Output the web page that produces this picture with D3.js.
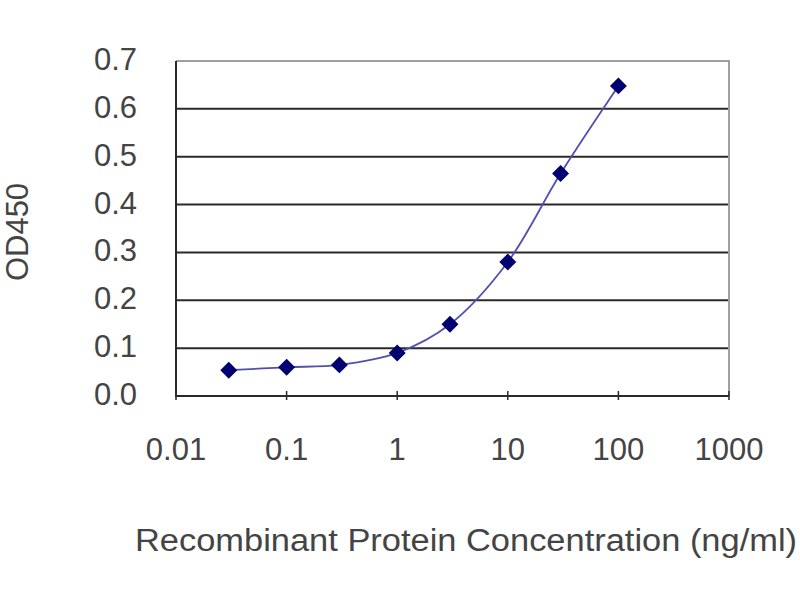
<!DOCTYPE html>
<html>
<head>
<meta charset="utf-8">
<script src="https://cdn.jsdelivr.net/npm/d3@7"></script>
<style>
  body { margin: 0; background: #fff; }
  text { font-family: "Liberation Sans", Arial, sans-serif; fill: #444; }
</style>
</head>
<body>
<div id="plot"></div>
<script>
// concentrations (ng/ml) and OD450 readings
const conc = [0.03, 0.1, 0.3, 1, 3, 10, 30, 100];
const od450 = [0.054, 0.060, 0.065, 0.090, 0.150, 0.280, 0.465, 0.648];
const xTicks = [0.01, 0.1, 1, 10, 100, 1000];
const yTicks = [0, 0.1, 0.2, 0.3, 0.4, 0.5, 0.6, 0.7];

const width = 800, height = 600;
const plotLeft = 176, plotRight = 729, plotTop = 61, plotBottom = 396;

const svg = d3.select("#plot")
  .append("svg")
    .attr("width", width)
    .attr("height", height);

const x = d3.scaleLog().domain([0.01, 1000]).range([plotLeft, plotRight]);
const y = d3.scaleLinear().domain([0, 0.7]).range([plotBottom, plotTop]);

// gridlines
svg.selectAll(".grid")
  .data(yTicks.filter(d => d > 0 && d < 0.7))
  .join("line")
    .attr("class", "grid")
    .attr("x1", plotLeft).attr("x2", plotRight)
    .attr("y1", d => y(d)).attr("y2", d => y(d))
    .attr("stroke", "#2a2a2a")
    .attr("stroke-width", 2);

// frame: top and right lighter grey
svg.append("path")
  .attr("d", `M${plotLeft},${plotTop}H${plotRight}V${plotBottom}`)
  .attr("fill", "none")
  .attr("stroke", "#a0a0a0")
  .attr("stroke-width", 2);

// axes lines
svg.append("path")
  .attr("d", `M${plotLeft},${plotTop}V${plotBottom}H${plotRight}`)
  .attr("fill", "none")
  .attr("stroke", "#2a2a2a")
  .attr("stroke-width", 2);

// x ticks
svg.selectAll(".xtick")
  .data(xTicks)
  .join("line")
    .attr("x1", d => x(d)).attr("x2", d => x(d))
    .attr("y1", plotBottom - 5).attr("y2", plotBottom + 4)
    .attr("stroke", "#2a2a2a")
    .attr("stroke-width", 1.5);

svg.selectAll(".xlab")
  .data(xTicks)
  .join("text")
    .attr("x", d => x(d))
    .attr("y", 460)
    .attr("text-anchor", "middle")
    .style("font-size", "31px")
    .text(d => String(d));

svg.selectAll(".ylab")
  .data(yTicks)
  .join("text")
    .attr("x", 137)
    .attr("y", d => y(d) + 9)
    .attr("text-anchor", "end")
    .style("font-size", "31px")
    .text(d => d.toFixed(1));

// axis titles
svg.append("text")
  .attr("transform", "translate(28,232) rotate(-90)")
  .attr("text-anchor", "middle")
  .style("font-size", "31px")
  .text("OD450");

svg.append("text")
  .attr("x", 135)
  .attr("y", 551)
  .attr("textLength", 662)
  .attr("lengthAdjust", "spacingAndGlyphs")
  .style("font-size", "31px")
  .text("Recombinant Protein Concentration (ng/ml)");

// curve
const pts = conc.map((c, i) => [c, od450[i]]);
const line = d3.line()
  .x(d => x(d[0]))
  .y(d => y(d[1]))
  .curve(d3.curveCatmullRom.alpha(0.5));

svg.append("path")
  .datum(pts)
  .attr("d", line)
  .attr("fill", "none")
  .attr("stroke", "#5050b0")
  .attr("stroke-width", 1.8);

// diamond markers
svg.selectAll(".pt")
  .data(pts)
  .join("path")
    .attr("d", d3.symbol().type(d3.symbolDiamond2).size(140))
    .attr("transform", d => `translate(${x(d[0])},${y(d[1])})`)
    .attr("fill", "#000070")
    .attr("stroke", "#000070")
    .attr("stroke-width", 1.5);
</script>
</body>
</html>
